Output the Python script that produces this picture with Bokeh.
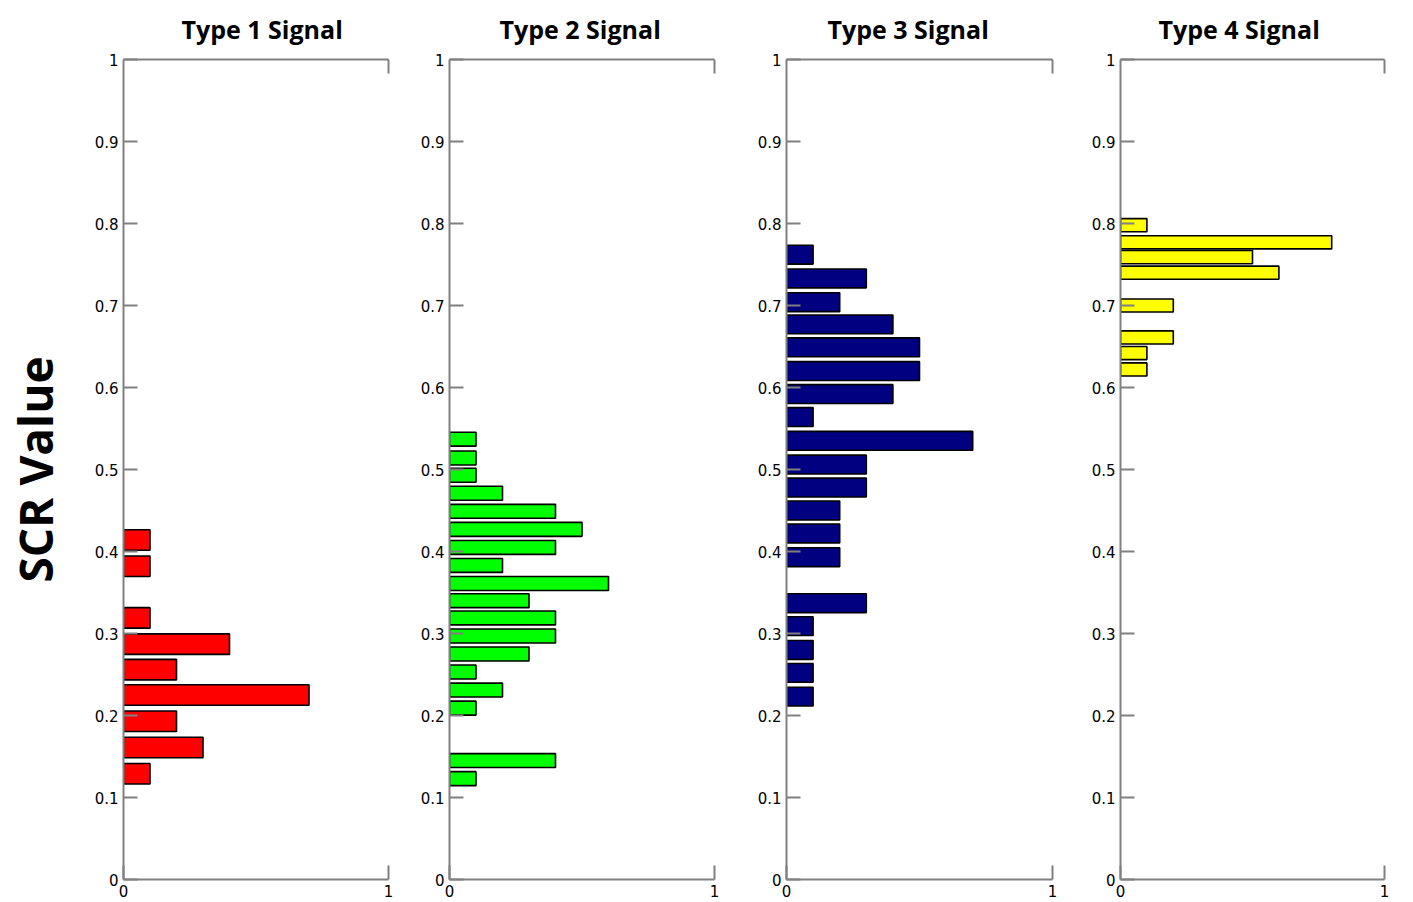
from bokeh.plotting import figure
from bokeh.layouts import row
from bokeh.models import LinearAxis, FixedTicker, Range1d, Title
from bokeh.embed import file_html
from bokeh.resources import INLINE

# ---- data ----
panel_titles = ["Type 1 Signal", "Type 2 Signal", "Type 3 Signal", "Type 4 Signal"]
y_axis_title = "SCR Value"

y_ticks = [0, 0.1, 0.2, 0.3, 0.4, 0.5, 0.6, 0.7, 0.8, 0.9, 1]
y_tick_labels = ["0", "0.1", "0.2", "0.3", "0.4", "0.5", "0.6", "0.7", "0.8", "0.9", "1"]
x_ticks = [0, 1]
x_tick_labels = ["0", "1"]

# bin centres (SCR value) and bar lengths, bottom to top
t1_y = [0.129, 0.161, 0.193, 0.225, 0.256, 0.287, 0.319, 0.382, 0.414]
t1_x = [0.1, 0.3, 0.2, 0.7, 0.2, 0.4, 0.1, 0.1, 0.1]

t2_y = [0.123, 0.145, 0.209, 0.231, 0.253, 0.275, 0.297, 0.319, 0.340, 0.361,
        0.383, 0.405, 0.427, 0.449, 0.471, 0.493, 0.514, 0.537]
t2_x = [0.1, 0.4, 0.1, 0.2, 0.1, 0.3, 0.4, 0.4, 0.3, 0.6,
        0.2, 0.4, 0.5, 0.4, 0.2, 0.1, 0.1, 0.1]

t3_y = [0.223, 0.252, 0.280, 0.309, 0.337, 0.393, 0.422, 0.450, 0.478, 0.506,
        0.535, 0.564, 0.592, 0.620, 0.649, 0.677, 0.704, 0.733, 0.762]
t3_x = [0.1, 0.1, 0.1, 0.1, 0.3, 0.2, 0.2, 0.2, 0.3, 0.3,
        0.7, 0.1, 0.4, 0.5, 0.5, 0.4, 0.2, 0.3, 0.1]

t4_y = [0.622, 0.642, 0.661, 0.700, 0.740, 0.759, 0.777, 0.798]
t4_x = [0.1, 0.1, 0.2, 0.2, 0.6, 0.5, 0.8, 0.1]

bar_heights = [0.025, 0.017, 0.023, 0.016]
colors = ["#FF0000", "#00FF00", "#000080", "#FFFF00"]

AX = "#808080"


def make_panel(title, ys, xs, bh, color, border_left, frame_w, title_offset, ylabel=None):
    p = figure(output_backend="svg", toolbar_location=None,
               x_range=Range1d(0, 1), y_range=Range1d(0, 1),
               frame_width=frame_w, frame_height=820,
               min_border_left=border_left, min_border_right=6,
               min_border_top=59, min_border_bottom=20,
               x_axis_location=None, y_axis_location=None)
    p.outline_line_color = None
    p.grid.grid_line_color = None
    p.background_fill_color = "white"
    p.border_fill_color = "white"

    p.hbar(y=ys, right=xs, left=0, height=bh, fill_color=color,
           line_color="black", line_width=1.6)

    common = dict(major_tick_in=14, major_tick_out=0, minor_tick_in=0, minor_tick_out=0,
                  axis_line_color=AX, axis_line_width=2,
                  major_tick_line_color=AX, major_tick_line_width=2,
                  minor_tick_line_color=AX, minor_tick_line_width=2,
                  major_label_text_font="DejaVu Sans", major_label_text_font_size="15px",
                  major_label_text_color="black")

    left = LinearAxis(ticker=FixedTicker(ticks=y_ticks),
                      major_label_overrides=dict(zip(y_ticks, y_tick_labels)),
                      major_label_standoff=5, **common)
    if ylabel:
        left.axis_label = ylabel
        left.axis_label_text_font = "Open Sans"
        left.axis_label_text_font_style = "bold"
        left.axis_label_text_font_size = "46px"
        left.axis_label_text_color = "black"
        left.axis_label_standoff = 26
    p.add_layout(left, "left")

    below = LinearAxis(ticker=FixedTicker(ticks=x_ticks),
                       major_label_overrides=dict(zip(x_ticks, x_tick_labels)),
                       major_label_standoff=5, **common)
    p.add_layout(below, "below")

    # top edge: no labels, only an inward minor tick at x = 1
    above = LinearAxis(ticker=FixedTicker(ticks=[], minor_ticks=[1]), **common)
    above.minor_tick_in = 14
    p.add_layout(above, "above")

    p.title = Title(text=title, align="left", vertical_align="top", text_font="Open Sans",
                    text_font_style="bold", text_font_size="25px",
                    text_color="black", offset=title_offset, standoff=23)
    return p


ys_all = [t1_y, t2_y, t3_y, t4_y]
xs_all = [t1_x, t2_x, t3_x, t4_x]
borders = [111, 55, 66, 62]
frame_ws = [265, 265, 266, 264]
offsets = [58, 50, 41, 38]

figs = []
for i in range(4):
    figs.append(make_panel(panel_titles[i], ys_all[i], xs_all[i], bar_heights[i], colors[i],
                           borders[i], frame_ws[i], offsets[i],
                           ylabel=y_axis_title if i == 0 else None))

layout = row(*figs)
open("out.html", "w").write(file_html(layout, INLINE))
